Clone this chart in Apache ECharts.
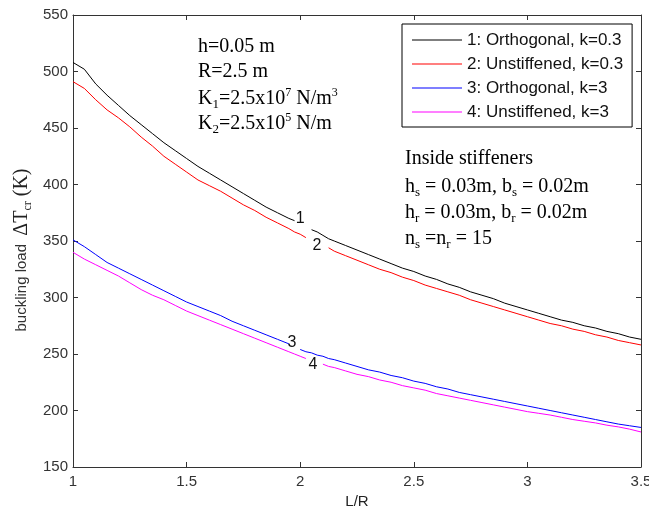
<!DOCTYPE html>
<html>
<head>
<meta charset="utf-8">
<script src="https://cdn.jsdelivr.net/npm/echarts@6/dist/echarts.min.js"></script>
<style>
  html, body { margin: 0; padding: 0; background: #fff; }
</style>
</head>
<body>
<div id="myChart" style="width:649px;height:513px"></div>
<script>
  // L/R sample points (denser near the curve labels)
  var xs = [1.00, 1.05, 1.10, 1.15, 1.20, 1.25, 1.30, 1.35, 1.40, 1.45, 1.50, 1.55, 1.60, 1.65, 1.70, 1.75, 1.80, 1.85, 1.90, 1.95,
    1.975, 2.00, 2.025, 2.05, 2.075, 2.10, 2.125,
    2.15, 2.20, 2.25, 2.30, 2.35, 2.40, 2.45, 2.50, 2.55, 2.60, 2.65, 2.70, 2.75, 2.80, 2.85, 2.90, 2.95, 3.00, 3.05, 3.10,
    3.15, 3.20, 3.25, 3.30, 3.35, 3.40, 3.45, 3.50]

  var names = ['1: Orthogonal, k=0.3', '2: Unstiffened, k=0.3', '3: Orthogonal, k=3', '4: Unstiffened, k=3']
  var colors = ['#000000', '#ff0000', '#0000ff', '#ff00ff']

  // buckling load ΔTcr (K), null = gap left for the curve number
  var orthK03 = [508, 502, 489, 479, 470, 461, 453, 445, 437, 430, 423, 416, 410, 404, 398, 392, 386, 380, 375, 370,
    368, null, null, 360, 358, 355, 352,
    350, 346, 342, 338, 334, 330, 326, 323, 319, 316, 312, 309, 305, 302, 299, 295, 292, 289, 286, 283,
    280, 278, 275, 273, 270, 268, 265, 263]
  var unstK03 = [491, 485, 475, 466, 459, 451, 442, 434, 425, 418, 411, 404, 399, 394, 388, 382, 377, 371, 366, 361,
    358, 356, 353, null, null, null, 344,
    341, 337, 333, 329, 325, 322, 318, 315, 311, 308, 305, 302, 298, 295, 292, 289, 286, 283, 280, 277,
    275, 272, 270, 267, 265, 262, 260, 258]
  var orthK3 = [351, 345, 338, 331, 326, 321, 316, 311, 306, 301, 296, 292, 288, 284, 279, 275, 271, 267, 263, 259,
    null, 254, 252, 251, 249, 248, 246,
    245, 242, 239, 236, 234, 231, 229, 226, 224, 221, 219, 216, 214, 212, 210, 208, 206, 204, 202, 200,
    198, 196, 194, 192, 190, 188, 186.5, 185]
  var unstK3 = [340, 334, 329, 324, 319, 313, 307, 302, 298, 293, 288, 284, 280, 276, 272, 268, 264, 260, 256, 252,
    250, 248, 246, null, null, 241, 239,
    238, 235, 232, 230, 227, 225, 222, 220, 218, 215, 213, 211, 209, 207, 205, 203, 201, 199, 197.5, 196,
    194, 192, 190.5, 189, 187, 185.5, 183.5, 181]

  // curve numbers: [L/R, load]
  var curveTags = [[2.0, 370], [2.074, 345.5], [1.964, 259.7], [2.056, 241]]

  var xMin = 1, xMax = 3.5, xStep = 0.5
  var yMin = 150, yMax = 550, yStep = 50

  var serif = 'Liberation Serif'
  var sans = 'Liberation Sans'

  var allSeries = [orthK03, unstK03, orthK3, unstK3]

  function pairs(ys) {
    return xs.map(function (x, i) { return [x, ys[i] === null ? '-' : ys[i]] })
  }

  var series = allSeries.map(function (ys, k) {
    return {
      name: names[k],
      type: 'line',
      data: pairs(ys),
      symbol: 'none',
      showSymbol: false,
      connectNulls: false,
      color: colors[k],
      lineStyle: { width: 1, color: colors[k] },
      markPoint: {
        symbol: 'rect',
        symbolSize: 1,
        itemStyle: { color: 'rgba(0,0,0,0)' },
        label: {
          show: true,
          position: 'inside',
          formatter: String(k + 1),
          color: '#111',
          fontFamily: sans,
          fontSize: 16
        },
        data: [{ coord: curveTags[k] }]
      }
    }
  })

  var rich = {
    n: { fontFamily: serif, fontSize: 20, lineHeight: 24, fill: '#000' },
    sp: { fontFamily: serif, fontSize: 12, lineHeight: 13, verticalAlign: 'top', fill: '#000' },
    sb: { fontFamily: serif, fontSize: 13, lineHeight: 13, verticalAlign: 'bottom', fill: '#000' },
    word: { fontFamily: sans, fontSize: 15, lineHeight: 24, fill: '#333' },
    sym: { fontFamily: serif, fontSize: 20, lineHeight: 24, fill: '#222' },
    low: { fontFamily: serif, fontSize: 12, lineHeight: 12, verticalAlign: 'bottom', fill: '#222' }
  }

  function note(x, y, text) {
    return {
      type: 'text',
      x: x,
      y: y,
      z: 100,
      style: { text: text, rich: rich, verticalAlign: 'middle', fill: '#000' }
    }
  }

  var axisCol = '#333'

  var option = {
    animation: false,
    backgroundColor: '#fff',
    grid: { left: 73, right: 8, top: 15, bottom: 46, outerBoundsMode: 'none', containLabel: false },
    legend: {
      data: names,
      orient: 'vertical',
      left: 402,
      top: 24,
      icon: 'path://M0,0H50V1.2H0Z',
      itemWidth: 50,
      itemHeight: 14,
      itemGap: 4,
      padding: [6, 9, 5, 10],
      backgroundColor: '#fff',
      borderColor: '#000',
      borderWidth: 1,
      borderRadius: 0,
      selectedMode: false,
      textStyle: { fontFamily: sans, fontSize: 17, lineHeight: 20, color: '#111' }
    },
    xAxis: [{
      type: 'value',
      min: xMin,
      max: xMax,
      interval: xStep,
      name: 'L/R',
      nameLocation: 'middle',
      nameGap: 25,
      nameTextStyle: { fontFamily: sans, fontSize: 15, color: '#222' },
      axisLine: { show: true, onZero: false, lineStyle: { color: axisCol, width: 1 } },
      axisTick: { inside: true, length: 5, lineStyle: { color: axisCol } },
      axisLabel: { margin: 7, fontFamily: sans, fontSize: 15, color: '#333', showMaxLabel: true },
      splitLine: { show: false }
    }, {
      type: 'value',
      position: 'top',
      min: xMin,
      max: xMax,
      interval: xStep,
      axisLine: { show: true, onZero: false, lineStyle: { color: axisCol, width: 1 } },
      axisTick: { inside: true, length: 5, lineStyle: { color: axisCol } },
      axisLabel: { show: false },
      splitLine: { show: false }
    }],
    yAxis: [{
      type: 'value',
      min: yMin,
      max: yMax,
      interval: yStep,
      axisLine: { show: true, onZero: false, lineStyle: { color: axisCol, width: 1 } },
      axisTick: { inside: true, length: 5, lineStyle: { color: axisCol } },
      axisLabel: { margin: 5, fontFamily: sans, fontSize: 15, color: '#333' },
      splitLine: { show: false }
    }, {
      type: 'value',
      position: 'right',
      min: yMin,
      max: yMax,
      interval: yStep,
      axisLine: { show: true, onZero: false, lineStyle: { color: axisCol, width: 1 } },
      axisTick: { inside: true, length: 5, lineStyle: { color: axisCol } },
      axisLabel: { show: false },
      splitLine: { show: false }
    }],
    graphic: [
      // y axis title
      {
        type: 'text',
        x: 22,
        y: 250,
        rotation: Math.PI / 2,
        style: {
          text: '{word|buckling load}{word|  }{sym|ΔT}{low|cr}{sym| (K)}',
          rich: rich,
          align: 'center',
          verticalAlign: 'middle'
        }
      },
      note(198, 47, '{n|h=0.05 m}'),
      note(198, 72, '{n|R=2.5 m}'),
      note(198, 99, '{n|K}{sb|1}{n|=2.5x10}{sp|7}{n| N/m}{sp|3}'),
      note(198, 124, '{n|K}{sb|2}{n|=2.5x10}{sp|5}{n| N/m}'),
      note(405, 159, '{n|Inside stiffeners}'),
      note(405, 187, '{n|h}{sb|s}{n| = 0.03m, b}{sb|s}{n| = 0.02m}'),
      note(405, 213, '{n|h}{sb|r}{n| = 0.03m, b}{sb|r}{n| = 0.02m}'),
      note(405, 239, '{n|n}{sb|s}{n| =n}{sb|r}{n| = 15}')
    ],
    series: series
  }

  var myChart = echarts.init(document.getElementById('myChart'))
  myChart.setOption(option)
</script>
</body>
</html>
